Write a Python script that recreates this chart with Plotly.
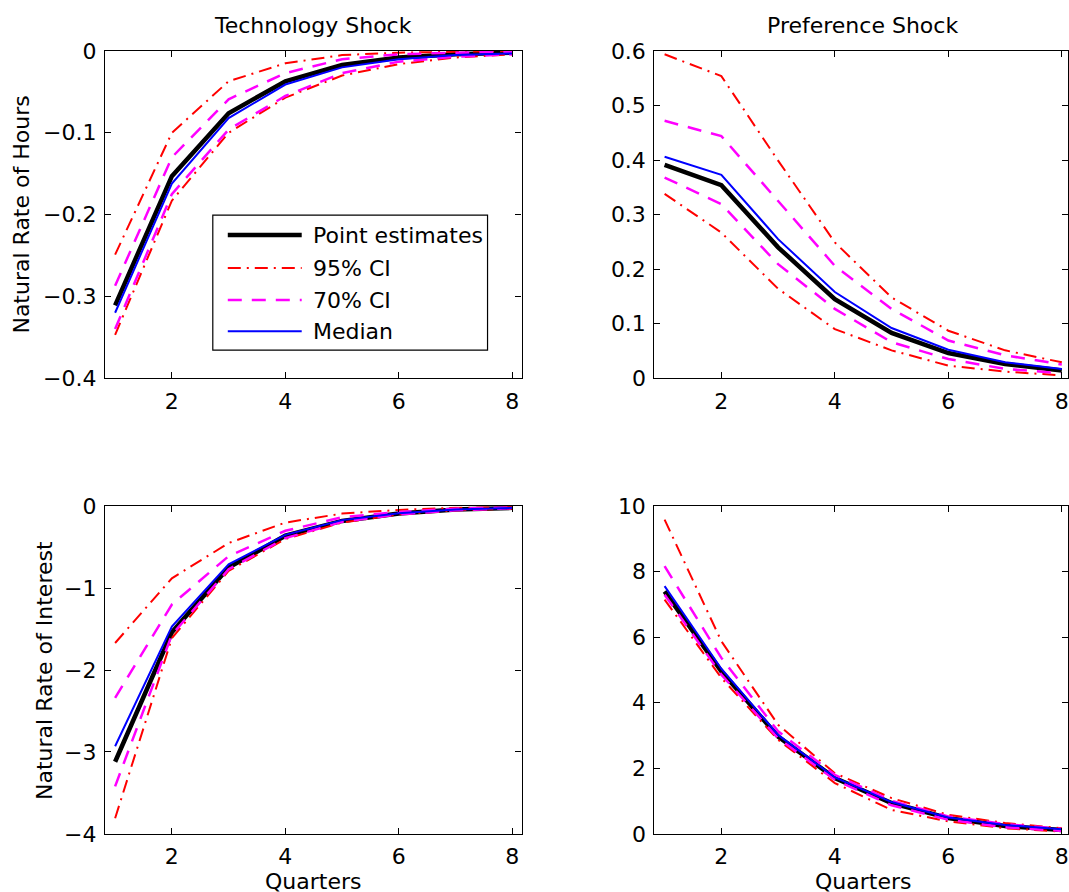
import plotly.graph_objects as go

quarters = [1, 2, 3, 4, 5, 6, 7, 8]

# Natural rate of hours, technology shock
hours_tech_point = [-0.311, -0.153, -0.076, -0.037, -0.017, -0.008, -0.004, -0.002]
hours_tech_median = [-0.320, -0.162, -0.082, -0.041, -0.020, -0.010, -0.005, -0.003]
hours_tech_95_hi = [-0.249, -0.100, -0.037, -0.015, -0.005, -0.002, -0.001, 0.000]
hours_tech_95_lo = [-0.347, -0.183, -0.100, -0.057, -0.030, -0.016, -0.008, -0.004]
hours_tech_70_hi = [-0.287, -0.130, -0.059, -0.027, -0.010, -0.004, -0.002, -0.001]
hours_tech_70_lo = [-0.340, -0.175, -0.096, -0.055, -0.027, -0.013, -0.007, -0.004]

# Natural rate of hours, preference shock
hours_pref_point = [0.391, 0.354, 0.240, 0.145, 0.083, 0.046, 0.026, 0.014]
hours_pref_median = [0.406, 0.373, 0.255, 0.158, 0.092, 0.052, 0.029, 0.017]
hours_pref_95_hi = [0.594, 0.554, 0.399, 0.249, 0.148, 0.087, 0.051, 0.029]
hours_pref_95_lo = [0.338, 0.267, 0.164, 0.090, 0.051, 0.023, 0.012, 0.005]
hours_pref_70_hi = [0.472, 0.444, 0.325, 0.206, 0.127, 0.069, 0.042, 0.025]
hours_pref_70_lo = [0.368, 0.319, 0.209, 0.127, 0.066, 0.035, 0.017, 0.009]

# Natural rate of interest, technology shock
rate_tech_point = [-3.12, -1.54, -0.75, -0.36, -0.18, -0.09, -0.04, -0.02]
rate_tech_median = [-2.93, -1.47, -0.71, -0.35, -0.17, -0.085, -0.04, -0.02]
rate_tech_95_hi = [-1.67, -0.88, -0.45, -0.20, -0.09, -0.045, -0.02, -0.01]
rate_tech_95_lo = [-3.81, -1.61, -0.79, -0.40, -0.20, -0.10, -0.05, -0.03]
rate_tech_70_hi = [-2.34, -1.20, -0.61, -0.30, -0.135, -0.07, -0.03, -0.015]
rate_tech_70_lo = [-3.42, -1.57, -0.77, -0.39, -0.19, -0.10, -0.05, -0.025]

# Natural rate of interest, preference shock
rate_pref_point = [7.40, 4.96, 2.97, 1.70, 0.94, 0.48, 0.24, 0.12]
rate_pref_median = [7.56, 5.04, 3.02, 1.72, 0.97, 0.50, 0.27, 0.14]
rate_pref_95_hi = [9.59, 5.88, 3.33, 1.85, 1.09, 0.58, 0.33, 0.17]
rate_pref_95_lo = [7.15, 4.76, 2.87, 1.55, 0.73, 0.38, 0.17, 0.07]
rate_pref_70_hi = [8.17, 5.37, 3.13, 1.80, 1.01, 0.53, 0.30, 0.15]
rate_pref_70_lo = [7.30, 4.86, 2.92, 1.65, 0.87, 0.43, 0.20, 0.09]

panel_titles = ["Technology Shock", "Preference Shock"]
row_titles = ["Natural Rate of Hours", "Natural Rate of Interest"]
legend_labels = ["Point estimates", "95% CI", "70% CI", "Median"]
x_title = "Quarters"

y_ranges = [[-0.4, 0], [0, 0.6], [-4, 0], [0, 10]]
y_dticks = [0.1, 0.1, 1, 2]

FONT = "DejaVu Sans"
FS = 22
W = 1069
HF = 906       # figure height
OFF = 11.0     # observed vertical offset of the photographed page
SY = 0.972     # observed vertical scale of the photographed page


def px_x(x):
    return x / W


def px_y(y):
    # target picture y (pixels from top) -> paper fraction
    return 1 - ((y - OFF) / SY) / HF


styles = {
    "point": dict(color="black", width=4.5, dash="solid"),
    "ci95": dict(color="#ff0000", width=2, dash="13px,6px,2px,6px"),
    "ci70": dict(color="#ff00ff", width=2.5, dash="14px,10px"),
    "median": dict(color="#0000ff", width=2, dash="solid"),
}

panels = [
    (hours_tech_point, hours_tech_95_hi, hours_tech_95_lo, hours_tech_70_hi, hours_tech_70_lo, hours_tech_median),
    (hours_pref_point, hours_pref_95_hi, hours_pref_95_lo, hours_pref_70_hi, hours_pref_70_lo, hours_pref_median),
    (rate_tech_point, rate_tech_95_hi, rate_tech_95_lo, rate_tech_70_hi, rate_tech_70_lo, rate_tech_median),
    (rate_pref_point, rate_pref_95_hi, rate_pref_95_lo, rate_pref_70_hi, rate_pref_70_lo, rate_pref_median),
]

# pixel layout (target picture coordinates)
x_dom_px = [(105, 522), (655, 1069)]
y_dom_px = [(50, 377), (505, 832.5)]
px_per_q = 56.8
x_left = 0.82

fig = go.Figure()
layout = {}
for i, series in enumerate(panels):
    r, c = divmod(i, 2)
    n = i + 1
    xa = "x" if n == 1 else f"x{n}"
    ya = "y" if n == 1 else f"y{n}"
    point, h95, l95, h70, l70, med = series
    for vals, key in [(point, "point"), (h95, "ci95"), (l95, "ci95"),
                      (h70, "ci70"), (l70, "ci70"), (med, "median")]:
        fig.add_trace(go.Scatter(x=quarters, y=vals, mode="lines",
                                 line=styles[key], xaxis=xa, yaxis=ya,
                                 showlegend=False, hoverinfo="skip"))
    x0, x1 = x_dom_px[c]
    y0, y1 = y_dom_px[r]
    common = dict(showline=True, linecolor="black", linewidth=1.2, mirror="ticks",
                  ticks="inside", ticklen=6, tickcolor="black", tickwidth=1,
                  showgrid=False, zeroline=False,
                  tickfont=dict(family=FONT, size=FS, color="black"))
    layout["xaxis" if n == 1 else f"xaxis{n}"] = dict(
        common, domain=[px_x(x0), px_x(x1)], anchor=ya,
        range=[x_left, x_left + (x1 - x0) / px_per_q],
        tickvals=[2, 4, 6, 8], ticklabelstandoff=3)
    layout["yaxis" if n == 1 else f"yaxis{n}"] = dict(
        common, domain=[px_y(y1), px_y(y0)], anchor=xa,
        range=y_ranges[i], dtick=y_dticks[i], tick0=0, ticklabelstandoff=3)

fig.update_layout(**layout)

annotations = []
for c, t in enumerate(panel_titles):
    x0, x1 = x_dom_px[c]
    cx = (x0 + x0 + 417) / 2
    annotations.append(dict(text=t, x=px_x(cx), y=px_y(24), xref="paper", yref="paper",
                            showarrow=False, xanchor="center", yanchor="middle",
                            font=dict(family=FONT, size=FS, color="black")))
    annotations.append(dict(text=x_title, x=px_x(cx), y=px_y(880), xref="paper", yref="paper",
                            showarrow=False, xanchor="center", yanchor="middle",
                            font=dict(family=FONT, size=FS, color="black")))
for r, (t, xp) in enumerate(zip(row_titles, [22, 44])):
    y0, y1 = y_dom_px[r]
    annotations.append(dict(text=t, x=px_x(xp), y=px_y((y0 + y1) / 2), xref="paper", yref="paper",
                            showarrow=False, xanchor="center", yanchor="middle", textangle=-90,
                            font=dict(family=FONT, size=FS, color="black")))

# legend box (drawn as decoration)
shapes = [dict(type="rect", xref="paper", yref="paper",
               x0=px_x(213), x1=px_x(488), y0=px_y(349), y1=px_y(214),
               line=dict(color="black", width=1.2), fillcolor="white", layer="above")]
row_y = [234, 267, 299, 330]
for lab, key, yy in zip(legend_labels, ["point", "ci95", "ci70", "median"], row_y):
    st = styles[key]
    shapes.append(dict(type="line", xref="paper", yref="paper",
                       x0=px_x(228), x1=px_x(302), y0=px_y(yy), y1=px_y(yy),
                       line=dict(color=st["color"], width=st["width"], dash=st["dash"]),
                       layer="above"))
    annotations.append(dict(text=lab, x=px_x(311), y=px_y(yy), xref="paper", yref="paper",
                            showarrow=False, xanchor="left", yanchor="middle",
                            font=dict(family=FONT, size=FS, color="black")))

fig.update_layout(width=W, height=HF, margin=dict(l=0, r=0, t=0, b=0),
                  paper_bgcolor="white", plot_bgcolor="white",
                  showlegend=False, annotations=annotations, shapes=shapes)

post = "document.body.style.margin='0px';"
fig.write_html("out.html", config={"displayModeBar": False}, post_script=post)
